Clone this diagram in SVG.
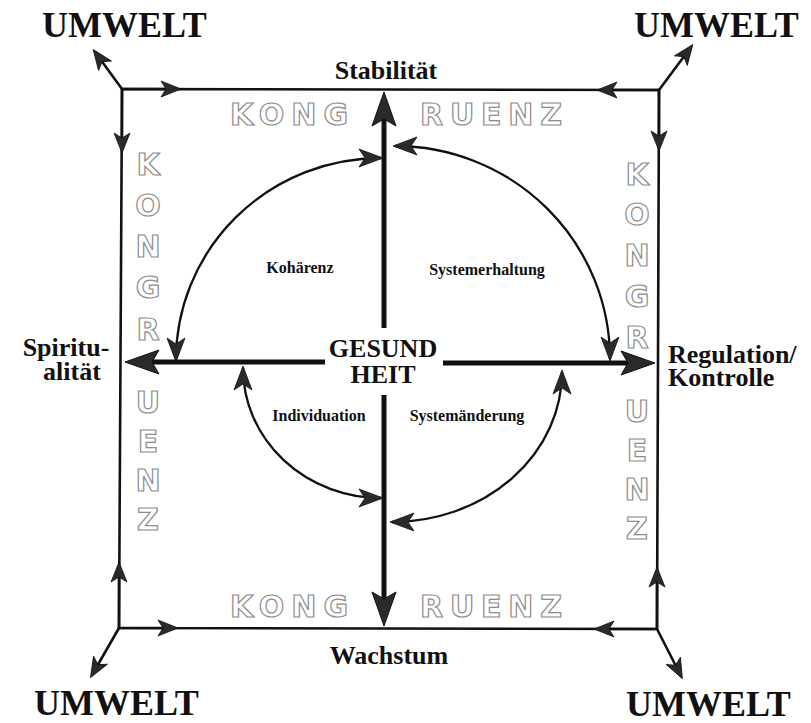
<svg xmlns="http://www.w3.org/2000/svg" width="811" height="723" viewBox="0 0 811 723">
<style>
.lbl{font-family:"Liberation Serif","Times New Roman",serif;font-weight:bold;fill:#111}
.um{font-size:36px}
.ax{font-size:26px}
.sm{font-size:16px}
.kg{font-family:"DejaVu Sans","Liberation Sans",sans-serif;font-weight:bold;font-size:30px;fill:#fff;stroke:#8c8c8c;stroke-width:1.2}
.edge{fill:none;stroke:#111;stroke-width:2.6}
.main{fill:none;stroke:#111;stroke-width:5}
.arc{fill:none;stroke:#111;stroke-width:2.3}
</style>
<defs>
<marker id="big" markerUnits="userSpaceOnUse" markerWidth="34" markerHeight="24" viewBox="0 0 34 24" refX="14" refY="12" orient="auto" overflow="visible">
<path d="M0,0 L34,12 L0,24 L7,12 z" fill="#2a2a2a" stroke="#111" stroke-width="1"/>
</marker>
<marker id="sm" markerUnits="userSpaceOnUse" markerWidth="20" markerHeight="16" viewBox="0 0 20 16" refX="17" refY="8" orient="auto" overflow="visible">
<path d="M0,0 L20,8 L0,16 L5,8 z" fill="#2a2a2a" stroke="#111" stroke-width="0.8"/>
</marker>
<marker id="arr" markerUnits="userSpaceOnUse" markerWidth="24" markerHeight="18" viewBox="0 0 24 18" refX="22" refY="9" orient="auto-start-reverse" overflow="visible">
<path d="M0,0 L24,9 L0,18 L6,9 z" fill="#2a2a2a" stroke="#111" stroke-width="0.8"/>
</marker>
</defs>
<rect width="811" height="723" fill="#fff"/>

<g id="connectors">
<path class="edge" d="M122,89 L659,90 L657,629 L119,628 Z"/>
<line class="edge" x1="122" y1="89" x2="178" y2="89" marker-end="url(#sm)"/>
<line class="edge" x1="122" y1="89" x2="122" y2="150" marker-end="url(#sm)"/>
<line class="edge" x1="122" y1="89" x2="95" y2="52" marker-end="url(#sm)"/>
<line class="edge" x1="659" y1="90" x2="600" y2="90" marker-end="url(#sm)"/>
<line class="edge" x1="659" y1="90" x2="659" y2="148" marker-end="url(#sm)"/>
<line class="edge" x1="659" y1="90" x2="691" y2="47" marker-end="url(#sm)"/>
<line class="edge" x1="119" y1="628" x2="119" y2="565" marker-end="url(#sm)"/>
<line class="edge" x1="119" y1="628" x2="175" y2="628" marker-end="url(#sm)"/>
<line class="edge" x1="119" y1="628" x2="92" y2="675" marker-end="url(#sm)"/>
<line class="edge" x1="657" y1="629" x2="657" y2="570" marker-end="url(#sm)"/>
<line class="edge" x1="657" y1="629" x2="597" y2="629" marker-end="url(#sm)"/>
<line class="edge" x1="657" y1="629" x2="681" y2="676" marker-end="url(#sm)"/>

<line class="main" x1="384" y1="328" x2="384" y2="112" marker-end="url(#big)"/>
<line class="main" x1="384" y1="395" x2="384" y2="606" marker-end="url(#big)"/>
<line class="main" x1="325" y1="362" x2="145" y2="362" marker-end="url(#big)"/>
<line class="main" x1="443" y1="363" x2="635" y2="363" marker-end="url(#big)"/>

<path class="arc" d="M381,158 A205,202 0 0 0 176,360" marker-start="url(#arr)" marker-end="url(#arr)"/>
<path class="arc" d="M395,146 A215,213 0 0 1 610,359" marker-start="url(#arr)" marker-end="url(#arr)"/>
<path class="arc" d="M243,368 A138,130 0 0 0 381,498" marker-start="url(#arr)" marker-end="url(#arr)"/>
<path class="arc" d="M562,372 A170,150 0 0 1 392,522" marker-start="url(#arr)" marker-end="url(#arr)"/>
</g>

<g id="umwelt-tl"><text class="lbl um" x="42" y="37">UMWELT</text></g>
<g id="umwelt-tr"><text class="lbl um" x="634" y="37">UMWELT</text></g>
<g id="umwelt-bl"><text class="lbl um" x="34" y="715">UMWELT</text></g>
<g id="umwelt-br"><text class="lbl um" x="626" y="716">UMWELT</text></g>

<g id="stabilitaet"><text class="lbl ax" x="386" y="79" text-anchor="middle">Stabilität</text></g>
<g id="wachstum"><text class="lbl ax" x="389" y="664" text-anchor="middle">Wachstum</text></g>
<g id="spiritualitaet">
<text class="lbl ax" x="66" y="356" text-anchor="middle">Spiritu-</text>
<text class="lbl ax" x="72" y="380" text-anchor="middle">alität</text>
</g>
<g id="regulation">
<text class="lbl ax" x="668" y="363">Regulation/</text>
<text class="lbl ax" x="668" y="386">Kontrolle</text>
</g>
<g id="gesundheit">
<text class="lbl ax" x="383" y="357" text-anchor="middle">GESUND</text>
<text class="lbl ax" x="383" y="383" text-anchor="middle">HEIT</text>
</g>

<g id="kohaerenz"><text class="lbl sm" x="300" y="273" text-anchor="middle">Kohärenz</text></g>
<g id="systemerhaltung"><text class="lbl sm" x="487" y="275" text-anchor="middle">Systemerhaltung</text></g>
<g id="individuation"><text class="lbl sm" x="319" y="421" text-anchor="middle">Individuation</text></g>
<g id="systemaenderung"><text class="lbl sm" x="467" y="421" text-anchor="middle">Systemänderung</text></g>

<g id="kongruenz-top">
<text class="kg" x="230" y="125" textLength="118" lengthAdjust="spacing">KONG</text>
<text class="kg" x="420" y="125" textLength="142" lengthAdjust="spacing">RUENZ</text>
</g>
<g id="kongruenz-bottom">
<text class="kg" x="230" y="617" textLength="118" lengthAdjust="spacing">KONG</text>
<text class="kg" x="420" y="617" textLength="142" lengthAdjust="spacing">RUENZ</text>
</g>
<g id="kongruenz-left" text-anchor="middle">
<text class="kg" x="148" y="175">K</text>
<text class="kg" x="148" y="216">O</text>
<text class="kg" x="148" y="257">N</text>
<text class="kg" x="148" y="298">G</text>
<text class="kg" x="148" y="340">R</text>
<text class="kg" x="148" y="413">U</text>
<text class="kg" x="148" y="452">E</text>
<text class="kg" x="148" y="491">N</text>
<text class="kg" x="148" y="530">Z</text>
</g>
<g id="kongruenz-right" text-anchor="middle">
<text class="kg" x="637" y="185">K</text>
<text class="kg" x="637" y="225">O</text>
<text class="kg" x="637" y="266">N</text>
<text class="kg" x="637" y="307">G</text>
<text class="kg" x="637" y="348">R</text>
<text class="kg" x="637" y="422">U</text>
<text class="kg" x="637" y="461">E</text>
<text class="kg" x="637" y="500">N</text>
<text class="kg" x="637" y="539">Z</text>
</g>
</svg>
